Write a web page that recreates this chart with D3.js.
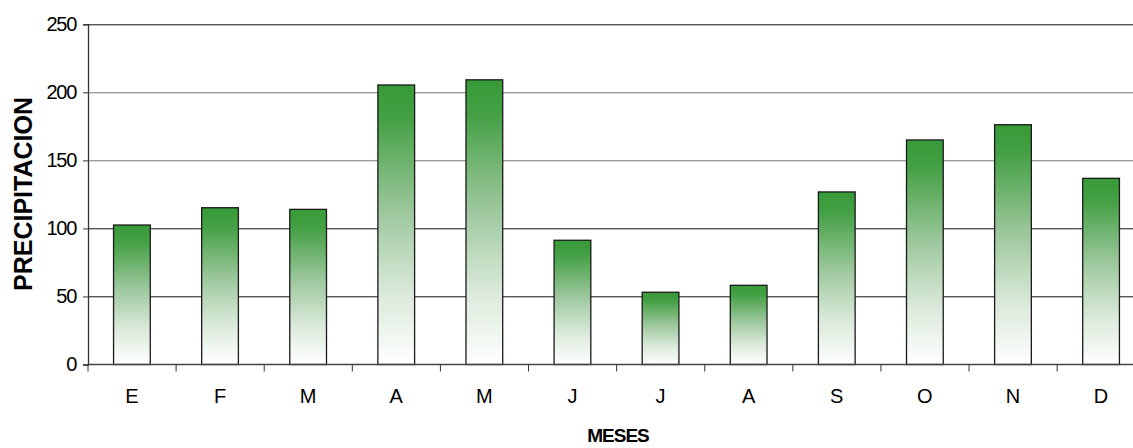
<!DOCTYPE html>
<html>
<head>
<meta charset="utf-8">
<script src="https://cdn.jsdelivr.net/npm/d3@7"></script>
<style>
  body { margin: 0; background: #fff; }
  svg text { font-family: "Liberation Sans", Arial, sans-serif; fill: #000; }
</style>
</head>
<body>
<div id="chart"></div>
<script>
// monthly rainfall
var months = ["E", "F", "M", "A", "M", "J", "J", "A", "S", "O", "N", "D"];
var precip = [102.5, 115.2, 114, 205.4, 209.2, 91.3, 53.1, 58.2, 126.8, 165, 176.2, 136.8];
var yTicks = [0, 50, 100, 150, 200, 250];

var margin = {top: 24.3, left: 88},
    plotW = 1057,
    plotH = 340.2;

var svg = d3.select("#chart").append("svg")
    .attr("width", 1133)
    .attr("height", 448);

var defs = svg.append("defs");
var grad = defs.append("linearGradient")
    .attr("id", "barFill")
    .attr("x1", 0).attr("y1", 0)
    .attr("x2", 0).attr("y2", 1);
[[0, "#379a37"], [0.12, "#44a044"], [0.45, "#9cc79c"], [0.75, "#dbeadb"], [1, "#ffffff"]]
    .forEach(function(s) {
        grad.append("stop").attr("offset", s[0]).attr("stop-color", s[1]);
    });

var g = svg.append("g")
    .attr("transform", "translate(" + margin.left + "," + margin.top + ")");

var idx = d3.range(months.length);

var x = d3.scaleBand()
    .domain(idx)
    .range([0, plotW])
    .paddingInner(0.583)
    .paddingOuter(0.29);

var y = d3.scaleLinear()
    .domain([0, 250])
    .range([plotH, 0]);

// gridlines
g.append("g")
    .selectAll("line")
    .data(yTicks.filter(function(d) { return d > 0; }))
    .enter().append("line")
    .attr("x1", 0)
    .attr("x2", plotW)
    .attr("y1", function(d) { return Math.round(y(d)) + 0.5; })
    .attr("y2", function(d) { return Math.round(y(d)) + 0.5; })
    .attr("stroke", function(d) { return (d === 200 || d === 150) ? "#777" : "#111"; })
    .attr("stroke-width", 1);

// bars
g.append("g")
    .selectAll("rect")
    .data(idx)
    .enter().append("rect")
    .attr("x", function(i) { return x(i); })
    .attr("width", x.bandwidth())
    .attr("y", function(i) { return y(precip[i]); })
    .attr("height", function(i) { return plotH - y(precip[i]); })
    .attr("fill", "url(#barFill)")
    .attr("stroke", "#1a1a1a")
    .attr("stroke-width", 1.3);

// y axis
var yAxis = d3.axisLeft(y)
    .tickValues(yTicks)
    .tickSize(5)
    .tickPadding(7);

var ya = g.append("g").call(yAxis);
ya.select(".domain").attr("stroke", "#333").attr("stroke-width", 1.3);
ya.selectAll(".tick line").attr("stroke", "#333");
ya.selectAll("text")
    .style("font-size", "20px")
    .style("letter-spacing", "-1.3px")
    .attr("fill", "#000");

// x axis: ticks on category boundaries, labels centred
var xa = g.append("g")
    .attr("transform", "translate(0," + plotH + ")");
xa.append("line")
    .attr("x1", 0).attr("x2", plotW)
    .attr("stroke", "#444").attr("stroke-width", 1.3);
xa.selectAll(".bt")
    .data(d3.range(months.length + 1))
    .enter().append("line")
    .attr("class", "bt")
    .attr("x1", function(k) { return k * x.step(); })
    .attr("x2", function(k) { return k * x.step(); })
    .attr("y1", 0).attr("y2", 7)
    .attr("stroke", "#333");
xa.selectAll("text")
    .data(idx)
    .enter().append("text")
    .attr("x", function(i) { return x(i) + x.bandwidth() / 2; })
    .attr("y", 38.5)
    .attr("text-anchor", "middle")
    .style("font-size", "20px")
    .text(function(i) { return months[i]; });

// axis titles
svg.append("text")
    .attr("transform", "translate(32,194) rotate(-90)")
    .attr("text-anchor", "middle")
    .style("font-size", "25px")
    .style("font-weight", "bold")
    .text("PRECIPITACION");

svg.append("text")
    .attr("x", 618)
    .attr("y", 442)
    .attr("text-anchor", "middle")
    .style("font-size", "19px")
    .style("font-weight", "bold")
    .style("letter-spacing", "-1px")
    .text("MESES");
</script>
</body>
</html>
